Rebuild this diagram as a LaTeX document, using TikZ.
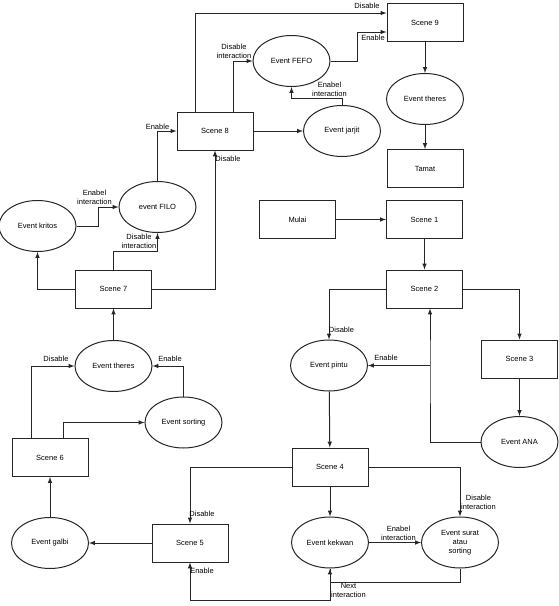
\documentclass[tikz,border=0pt]{standalone}
\usepackage{fontspec}
\setmainfont{Liberation Sans}
\usepackage{tikz}
\usetikzlibrary{shapes,arrows}
\tikzset{
	scene/.style  = {draw, rectangle, minimum width = 76pt, minimum height = 38pt, inner sep = 0pt},
	event/.style  = {draw, ellipse, minimum width = 77pt, minimum height = 51pt, inner sep = 0pt, align = center},
	lbl/.style    = {inner sep = 0pt, align = center}
}
\newcommand{\txtsize}{\fontsize{7.5}{9}\selectfont}

\begin{document}
\begin{tikzpicture}[x=1pt, y=-1pt, line width=1pt, >=latex, draw=black!85, font=\txtsize]
		\useasboundingbox (0,0) rectangle (558,606);
		\draw
		node at (425,22.5) [scene] (sc9) {Scene 9}
		node at (425,99) [event] (th9) {Event theres}
		node at (425,168.5) [scene] (tamat) {Tamat}
		node at (215,131) [scene] (sc8) {Scene 8}
		node at (291.5,61) [event] (fefo) {Event FEFO}
		node at (342,131) [event] (jarjit) {Event jarjit}
		node at (157.5,207) [event] (filo) {event FILO}
		node at (37.5,226) [event] (kritos) {Event kritos}
		node at (113.5,289) [scene] (sc7) {Scene 7}
		node at (113.5,366) [event] (th7) {Event theres}
		node at (183.5,422.5) [event] (sort) {Event sorting}
		node at (50,457.5) [scene] (sc6) {Scene 6}
		node at (50,543) [event] (galbi) {Event galbi}
		node at (190,543) [scene] (sc5) {Scene 5}
		node at (330,467) [scene] (sc4) {Scene 4}
		node at (330,542.5) [event] (kekwan) {Event kekwan}
		node at (460,542.5) [event] (surat) {Event surat\\atau\\sorting}
		node at (297.5,219.5) [scene] (mulai) {Mulai}
		node at (424.5,219.5) [scene] (sc1) {Scene 1}
		node at (424.5,289) [scene] (sc2) {Scene 2}
		node at (329,365.5) [event] (pintu) {Event pintu}
		node at (519.5,359) [scene] (sc3) {Scene 3}
		node at (519.5,442) [event] (ana) {Event ANA};
		
		\coordinate (j1) at (430,365.5);
		
		% top part
		\draw[->](sc8.north -| 195,0) |- (sc9.west |- 0,13);
		\draw[->](sc8.north -| 233,0) |- (fefo.west);
		\draw[->](fefo.east) -| (357,32) -- (sc9.west |- 0,32);
		\draw[->](jarjit.north) |- (fefo.south |- 0,98) -- (fefo.south);
		\draw[->](sc8.east)--(jarjit.west);
		\draw[->](sc9)--(th9);
		\draw[->](th9)--(tamat);
		
		% left part
		\draw[->](filo.north) |- (sc8.west);
		\draw[->](kritos.east) -| (98,207) -- (filo.west);
		\draw[->](sc7.north) |- (filo.south |- 0,251) -- (filo.south);
		\draw[->](sc7.west) -| (kritos.south);
		\draw[->](sc7.east) -| (sc8.south);
		\draw[->](th7)--(sc7);
		\draw[->](sc6.north -| 31,0) |- (th7.west);
		\draw[->](sc6.north -| 63,0) |- (sort.west);
		\draw[->](sort.north) |- (th7.east);
		\draw[->](galbi)--(sc6);
		\draw[->](sc5.west)--(galbi.east);
		
		% bottom part
		\draw[->](sc4.west) -| (sc5.north);
		\draw[->](sc4.east) -| (surat.north);
		\draw[->](sc4)--(kekwan);
		\draw[->](kekwan)--(surat);
		\draw[->](surat.south) |- (kekwan.south |- 0,582) -- (kekwan.south);
		\draw[->](kekwan.south) -- (kekwan.south |- 0,600) -| (sc5.south);
		
		% right part
		\draw[->](mulai)--(sc1);
		\draw[->](sc1)--(sc2);
		\draw[->](sc2.west) -| (pintu.north);
		\draw[->](sc2.east) -| (sc3.north);
		\draw[->](sc3)--(ana);
		\draw[->](ana.west) -| (j1) -- ([xshift=5.5pt]sc2.south);
		\draw[->](j1)--(pintu.east);
		\draw[->](pintu)--(sc4);
		
		\draw
		node at (367,6) [lbl] (l1) {Disable}
		node at (234,51) [lbl] (l2) {Disable\\interaction}
		node at (373,38) [lbl] (l3) {Enable}
		node at (329.5,89.5) [lbl] (l4) {Enabel\\interaction}
		node at (228,159) [lbl] (l5) {Disable}
		node at (157.5,127) [lbl] (l6) {Enable}
		node at (94.5,197) [lbl] (l7) {Enabel\\interaction}
		node at (139,241.5) [lbl] (l8) {Disable\\interaction}
		node at (56,359) [lbl] (l9) {Disable}
		node at (170,359) [lbl] (l10) {Enable}
		node at (202,514) [lbl] (l11) {Disable}
		node at (202,571) [lbl] (l12) {Enable}
		node at (478.5,502) [lbl] (l13) {Disable\\interaction}
		node at (398.5,533.5) [lbl] (l14) {Enabel\\interaction}
		node at (348.5,590.5) [lbl] (l15) {Next\\interaction}
		node at (341.5,330) [lbl] (l16) {Disable}
		node at (386,358) [lbl] (l17) {Enable};
		
	\end{tikzpicture}
\end{document}
